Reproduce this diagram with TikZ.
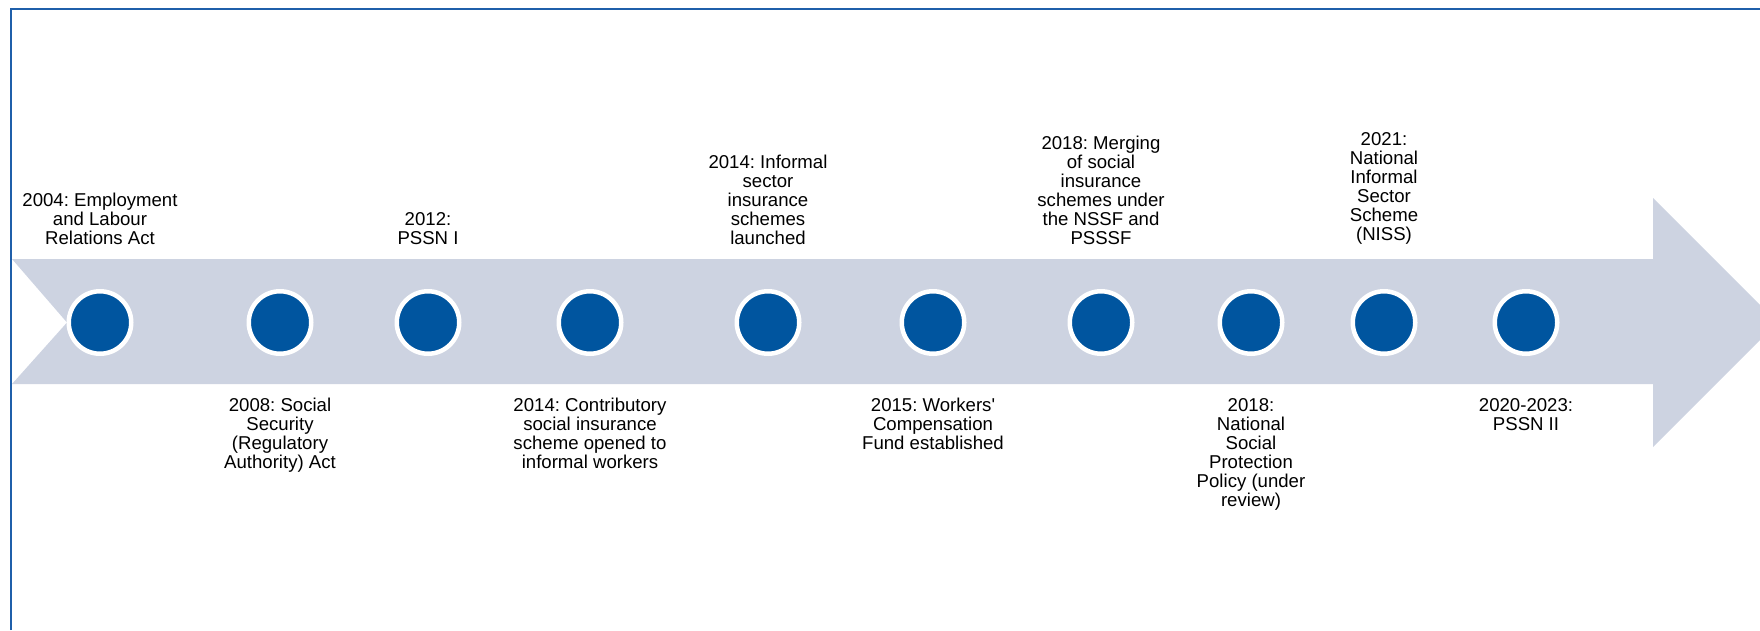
\documentclass[tikz,border=0pt]{standalone}
\usepackage{fontspec}
\setmainfont{Liberation Sans}[Ligatures=TeXOff]
\definecolor{framec}{HTML}{1F5FAA}
\definecolor{arrowc}{HTML}{CDD3E1}
\definecolor{dotc}{HTML}{00559F}
\frenchspacing
\begin{document}
\begin{tikzpicture}[x=1pt,y=-1pt,
 lab/.style={align=center,inner sep=0pt,font=\fontsize{18.6}{19}\selectfont\frenchspacing},
 toplab/.style={lab,anchor=south},
 botlab/.style={lab,anchor=north},
 dot/.style={circle,fill=dotc,draw=white,line width=4.5pt,minimum size=62.5pt,inner sep=0pt}]
\useasboundingbox (0,0) rectangle (1760,630);
\begin{scope}
\clip (0,0) rectangle (1760,630);
\fill[arrowc] (12,259) -- (1653,259) -- (1653,198) -- (1777.5,322.5) -- (1653,447) -- (1653,384) -- (12,384) -- (67,322.5) -- cycle;
\draw[framec,line width=2pt] (11,630) -- (11,9) -- (1760,9);
\end{scope}
\node[dot] (d1) at (100,322.5) {};
\node[dot] (d2) at (280,322.5) {};
\node[dot] (d3) at (428,322.5) {};
\node[dot] (d4) at (590,322.5) {};
\node[dot] (d5) at (768,322.5) {};
\node[dot] (d6) at (933,322.5) {};
\node[dot] (d7) at (1101,322.5) {};
\node[dot] (d8) at (1251,322.5) {};
\node[dot] (d9) at (1384,322.5) {};
\node[dot] (d10) at (1526,322.5) {};
\node[toplab] (t1) at (100,245) {2004: Employment\\and Labour\\Relations Act};
\node[botlab] (t2) at (280,398) {2008: Social\\Security\\(Regulatory\\Authority) Act};
\node[toplab] (t3) at (428,245) {2012:\\PSSN I};
\node[botlab] (t4) at (590,398) {2014: Contributory\\social insurance\\scheme opened to\\informal workers};
\node[toplab] (t5) at (768,245) {2014: Informal\\sector\\insurance\\schemes\\launched};
\node[botlab] (t6) at (933,398) {2015: Workers'\\Compensation\\Fund established};
\node[toplab] (t7) at (1101,245) {2018: Merging\\of social\\insurance\\schemes under\\the NSSF and\\PSSSF};
\node[botlab] (t8) at (1251,398) {2018:\\National\\Social\\Protection\\Policy (under\\review)};
\node[toplab] (t9) at (1384,245) {2021:\\National\\Informal\\Sector\\Scheme\\(NISS)};
\node[botlab] (t10) at (1526,398) {2020-2023:\\PSSN II};
\end{tikzpicture}
\end{document}
